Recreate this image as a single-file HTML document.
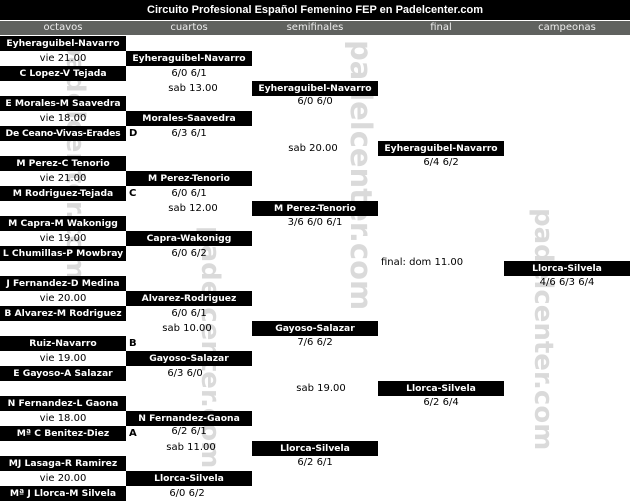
<!DOCTYPE html>
<html><head><meta charset="utf-8"><style>
body{margin:0;width:630px;height:501px;background:#fff;position:relative;overflow:hidden;font-family:"DejaVu Sans","Liberation Sans",sans-serif;}
.a{position:absolute;height:15px;line-height:15px;font-size:10px;text-align:center;white-space:nowrap;}
.b{background:#000;color:#fff;font-weight:bold;font-size:9.2px;}
.t{color:#000;}
.w{position:absolute;writing-mode:vertical-rl;font-weight:bold;color:#dadada;font-size:26px;line-height:26px;white-space:nowrap;}
.l{position:absolute;font-size:10px;font-weight:bold;line-height:15px;}
</style></head><body>
<div class="w" style="left:62px;top:38px;">padelcenter.com</div>
<div class="w" style="left:197px;top:226px;">padelcenter.com</div>
<div class="w" style="left:346px;top:40px;font-size:29px;line-height:29px;">padelcenter.com</div>
<div class="w" style="left:530px;top:208px;">padelcenter.com</div>

<div class="a" style="left:0;top:0;width:630px;height:20px;line-height:21px;background:#000;color:#fff;font-weight:bold;font-size:11px;font-family:'Liberation Sans',sans-serif;">Circuito Profesional Español Femenino FEP en Padelcenter.com</div>
<div style="position:absolute;left:0;top:21px;width:630px;height:14px;background:#60625f;"></div>
<div class="a" style="left:0;top:21px;width:126px;line-height:14px;color:#eee;">octavos</div>
<div class="a" style="left:126px;top:21px;width:126px;line-height:14px;color:#eee;">cuartos</div>
<div class="a" style="left:252px;top:21px;width:126px;line-height:14px;color:#eee;">semifinales</div>
<div class="a" style="left:378px;top:21px;width:126px;line-height:14px;color:#eee;">final</div>
<div class="a" style="left:504px;top:21px;width:126px;line-height:14px;color:#eee;">campeonas</div>

<!-- octavos -->
<div class="a b" style="left:0;top:36px;width:126px">Eyheraguibel-Navarro</div>
<div class="a t" style="left:0;top:51px;width:126px">vie 21.00</div>
<div class="a b" style="left:0;top:66px;width:126px">C Lopez-V Tejada</div>
<div class="a b" style="left:0;top:96px;width:126px">E Morales-M Saavedra</div>
<div class="a t" style="left:0;top:111px;width:126px">vie 18.00</div>
<div class="a b" style="left:0;top:126px;width:126px;letter-spacing:-0.2px">De Ceano-Vivas-Erades</div>
<div class="a b" style="left:0;top:156px;width:126px">M Perez-C Tenorio</div>
<div class="a t" style="left:0;top:171px;width:126px">vie 21.00</div>
<div class="a b" style="left:0;top:186px;width:126px">M Rodriguez-Tejada</div>
<div class="a b" style="left:0;top:216px;width:126px">M Capra-M Wakonigg</div>
<div class="a t" style="left:0;top:231px;width:126px">vie 19.00</div>
<div class="a b" style="left:0;top:246px;width:126px">L Chumillas-P Mowbray</div>
<div class="a b" style="left:0;top:276px;width:126px">J Fernandez-D Medina</div>
<div class="a t" style="left:0;top:291px;width:126px">vie 20.00</div>
<div class="a b" style="left:0;top:306px;width:126px">B Alvarez-M Rodriguez</div>
<div class="a b" style="left:0;top:336px;width:126px">Ruiz-Navarro</div>
<div class="a t" style="left:0;top:351px;width:126px">vie 19.00</div>
<div class="a b" style="left:0;top:366px;width:126px">E Gayoso-A Salazar</div>
<div class="a b" style="left:0;top:396px;width:126px">N Fernandez-L Gaona</div>
<div class="a t" style="left:0;top:411px;width:126px">vie 18.00</div>
<div class="a b" style="left:0;top:426px;width:126px">Mª C Benitez-Diez</div>
<div class="a b" style="left:0;top:456px;width:126px">MJ Lasaga-R Ramirez</div>
<div class="a t" style="left:0;top:471px;width:126px">vie 20.00</div>
<div class="a b" style="left:0;top:486px;width:126px">Mª J Llorca-M Silvela</div>

<div class="l" style="left:129px;top:126px">D</div>
<div class="l" style="left:129px;top:186px">C</div>
<div class="l" style="left:129px;top:336px">B</div>
<div class="l" style="left:129px;top:426px">A</div>

<!-- cuartos -->
<div class="a b" style="left:126px;top:51px;width:126px">Eyheraguibel-Navarro</div>
<div class="a t" style="left:126px;top:66px;width:126px">6/0 6/1</div>
<div class="a t" style="left:130px;top:81px;width:126px">sab 13.00</div>
<div class="a b" style="left:126px;top:111px;width:126px">Morales-Saavedra</div>
<div class="a t" style="left:126px;top:126px;width:126px">6/3 6/1</div>
<div class="a b" style="left:126px;top:171px;width:126px">M Perez-Tenorio</div>
<div class="a t" style="left:126px;top:186px;width:126px">6/0 6/1</div>
<div class="a t" style="left:130px;top:201px;width:126px">sab 12.00</div>
<div class="a b" style="left:126px;top:231px;width:126px">Capra-Wakonigg</div>
<div class="a t" style="left:126px;top:246px;width:126px">6/0 6/2</div>
<div class="a b" style="left:126px;top:291px;width:126px">Alvarez-Rodriguez</div>
<div class="a t" style="left:126px;top:306px;width:126px">6/0 6/1</div>
<div class="a t" style="left:124px;top:321px;width:126px">sab 10.00</div>
<div class="a b" style="left:126px;top:351px;width:126px">Gayoso-Salazar</div>
<div class="a t" style="left:122px;top:366px;width:126px">6/3 6/0</div>
<div class="a b" style="left:126px;top:411px;width:126px">N Fernandez-Gaona</div>
<div class="a t" style="left:126px;top:424px;width:126px">6/2 6/1</div>
<div class="a t" style="left:128px;top:440px;width:126px">sab 11.00</div>
<div class="a b" style="left:126px;top:471px;width:126px">Llorca-Silvela</div>
<div class="a t" style="left:124px;top:486px;width:126px">6/0 6/2</div>

<!-- semis -->
<div class="a b" style="left:252px;top:81px;width:126px">Eyheraguibel-Navarro</div>
<div class="a t" style="left:252px;top:94px;width:126px">6/0 6/0</div>
<div class="a t" style="left:250px;top:141px;width:126px">sab 20.00</div>
<div class="a b" style="left:252px;top:201px;width:126px">M Perez-Tenorio</div>
<div class="a t" style="left:252px;top:215px;width:126px">3/6 6/0 6/1</div>
<div class="a b" style="left:252px;top:321px;width:126px">Gayoso-Salazar</div>
<div class="a t" style="left:252px;top:335px;width:126px">7/6 6/2</div>
<div class="a t" style="left:258px;top:381px;width:126px">sab 19.00</div>
<div class="a b" style="left:252px;top:441px;width:126px">Llorca-Silvela</div>
<div class="a t" style="left:252px;top:455px;width:126px">6/2 6/1</div>

<!-- final -->
<div class="a b" style="left:378px;top:141px;width:126px">Eyheraguibel-Navarro</div>
<div class="a t" style="left:378px;top:155px;width:126px">6/4 6/2</div>
<div class="a t" style="left:381px;top:255px;text-align:left">final: dom 11.00</div>
<div class="a b" style="left:378px;top:381px;width:126px">Llorca-Silvela</div>
<div class="a t" style="left:378px;top:395px;width:126px">6/2 6/4</div>

<!-- champion -->
<div class="a b" style="left:504px;top:261px;width:126px">Llorca-Silvela</div>
<div class="a t" style="left:504px;top:275px;width:126px">4/6 6/3 6/4</div>
</body></html>
